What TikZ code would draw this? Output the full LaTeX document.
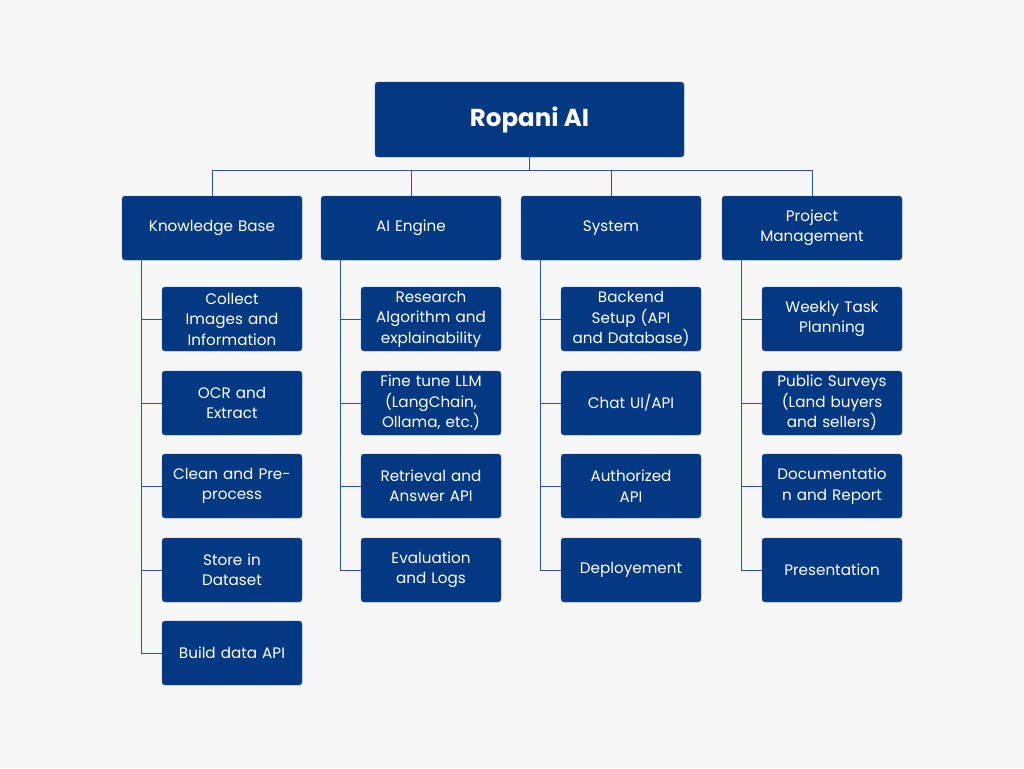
\documentclass[tikz,border=0pt]{standalone}
\usepackage{fontspec}
\setmainfont{Poppins}
\definecolor{boxblue}{RGB}{2,57,130}
\definecolor{linkblue}{RGB}{44,82,156}
\definecolor{paper}{RGB}{247,247,247}

\begin{document}
\begin{tikzpicture}
  [ x=1pt, y=-1pt,
    top/.style={rectangle, rounded corners=3pt, fill=boxblue, draw=boxblue!85!white, text=white,
      minimum width=309pt, minimum height=75pt, font=\fontsize{24.5}{29}\selectfont\bfseries},
    group/.style={rectangle, rounded corners=3pt, fill=boxblue, draw=boxblue!85!white, text=white,
      inner sep=2pt, minimum width=180pt, minimum height=64pt, text width=174pt, align=center,
      font=\fontsize{15.2}{20.5}\selectfont},
    task/.style={rectangle, rounded corners=3pt, fill=boxblue, draw=boxblue!85!white, text=white,
      inner sep=2pt, minimum width=140pt, minimum height=64pt, text width=135pt, align=center,
      font=\fontsize{15.2}{20.5}\selectfont},
    line/.style={-, line width=1pt, linkblue}
  ]

  \useasboundingbox[fill=paper] (0,0) rectangle (1024,768);

  \node[top] (ropani) at (529.5,119.5) {Ropani AI};
  \coordinate (bus) at (529.5,170);

  \node[group] (kb) at (212,228) {Knowledge Base};
  \node[group] (engine) at (411,228) {AI Engine};
  \node[group] (system) at (611,228) {System};
  \node[group] (pm) at (812,228) {Project\\Management};

  \node[task] (kbone) at (232,319) {Collect\\Images and\\Information};
  \node[task] (kbtwo) at (232,403) {OCR and\\Extract};
  \node[task] (kbthree) at (232,486) {Clean and Pre-\\process};
  \node[task] (kbfour) at (232,570) {Store in\\Dataset};
  \node[task] (kbfive) at (232,653) {Build data API};

  \node[task] (engineone) at (431,319) {Research\\Algorithm and\\explainability};
  \node[task] (enginetwo) at (431,403) {Fine tune LLM\\(LangChain,\\Ollama, etc.)};
  \node[task] (enginethree) at (431,486) {Retrieval and\\Answer API};
  \node[task] (enginefour) at (431,570) {Evaluation\\and Logs};

  \node[task] (systemone) at (631,319) {Backend\\Setup (API\\and Database)};
  \node[task] (systemtwo) at (631,403) {Chat UI/API};
  \node[task] (systemthree) at (631,486) {Authorized\\API};
  \node[task] (systemfour) at (631,570) {Deployement};

  \node[task] (pmone) at (832,319) {Weekly Task\\Planning};
  \node[task] (pmtwo) at (832,403) {Public Surveys\\(Land buyers\\and sellers)};
  \node[task] (pmthree) at (832,486) {Documentatio\\n and Report};
  \node[task] (pmfour) at (832,570) {Presentation};

  % root to groups
  \draw [line] (ropani.south) -- (bus);
  \draw [line] (kb.north) |- (bus);
  \draw [line] (engine.north) |- (bus);
  \draw [line] (system.north) |- (bus);
  \draw [line] (pm.north) |- (bus);

  % groups to tasks
  \draw [line] ([xshift=20pt]kb.south west) |- (kbone.west);
  \draw [line] ([xshift=20pt]kb.south west) |- (kbtwo.west);
  \draw [line] ([xshift=20pt]kb.south west) |- (kbthree.west);
  \draw [line] ([xshift=20pt]kb.south west) |- (kbfour.west);
  \draw [line] ([xshift=20pt]kb.south west) |- (kbfive.west);

  \draw [line] ([xshift=20pt]engine.south west) |- (engineone.west);
  \draw [line] ([xshift=20pt]engine.south west) |- (enginetwo.west);
  \draw [line] ([xshift=20pt]engine.south west) |- (enginethree.west);
  \draw [line] ([xshift=20pt]engine.south west) |- (enginefour.west);

  \draw [line] ([xshift=20pt]system.south west) |- (systemone.west);
  \draw [line] ([xshift=20pt]system.south west) |- (systemtwo.west);
  \draw [line] ([xshift=20pt]system.south west) |- (systemthree.west);
  \draw [line] ([xshift=20pt]system.south west) |- (systemfour.west);

  \draw [line] ([xshift=20pt]pm.south west) |- (pmone.west);
  \draw [line] ([xshift=20pt]pm.south west) |- (pmtwo.west);
  \draw [line] ([xshift=20pt]pm.south west) |- (pmthree.west);
  \draw [line] ([xshift=20pt]pm.south west) |- (pmfour.west);
\end{tikzpicture}
\end{document}
